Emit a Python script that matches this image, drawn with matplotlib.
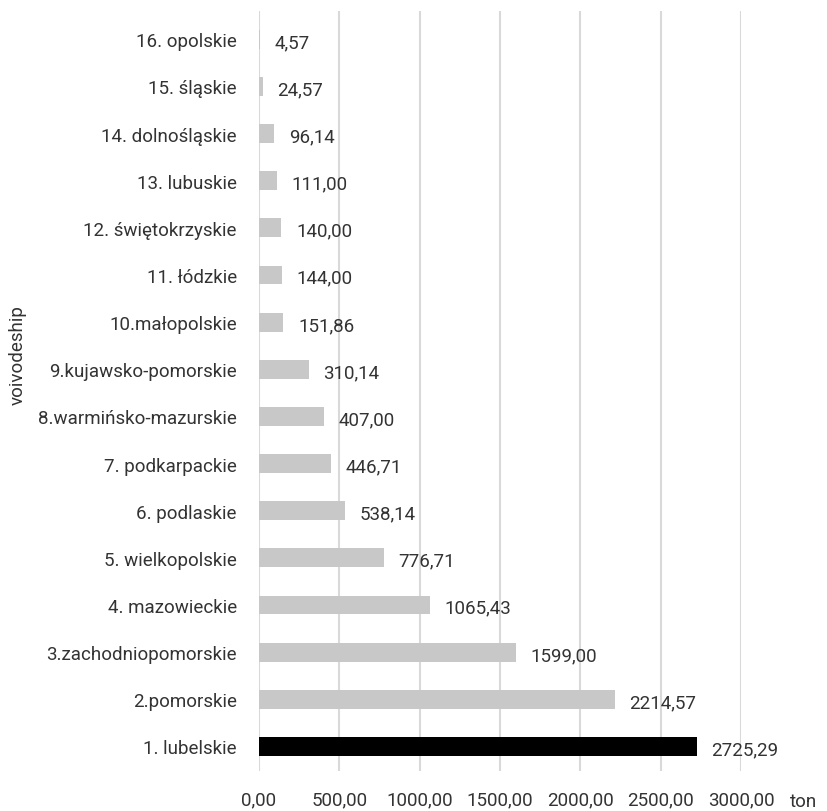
import numpy as np
import matplotlib.pyplot as plt

# dane: województwa i wartości (ton)
regiony = ['1. lubelskie', '2.pomorskie', '3.zachodniopomorskie', '4. mazowieckie',
           '5. wielkopolskie', '6. podlaskie', '7. podkarpackie', '8.warmińsko-mazurskie',
           '9.kujawsko-pomorskie', '10.małopolskie', '11. łódzkie', '12. świętokrzyskie',
           '13. lubuskie', '14. dolnośląskie', '15. śląskie', '16. opolskie']
wartosci = [2725.29, 2214.57, 1599.00, 1065.43, 776.71, 538.14, 446.71, 407.00,
            310.14, 151.86, 144.00, 140.00, 111.00, 96.14, 24.57, 4.57]
ticki = [0, 500, 1000, 1500, 2000, 2500, 3000]

plt.rcParams['font.family'] = ['Roboto', 'DejaVu Sans']
kolor_tekstu = '#333333'
rozmiar = 13.5

fig = plt.figure(figsize=(8.28, 8.12), dpi=100)
ax = fig.add_axes([0.3128, 0.0493, 0.5821, 0.9359])

y = np.arange(len(regiony))
kolory = ['black'] + ['#c8c8c8'] * (len(regiony) - 1)
ax.barh(y, wartosci, height=0.40, color=kolory, zorder=3)

for yi, v in zip(y, wartosci):
    ax.annotate(f'{v:.2f}'.replace('.', ','), (v, yi), xytext=(10.5, -2),
                textcoords='offset points', ha='left', va='center',
                fontsize=rozmiar, color=kolor_tekstu)

ax.set_xlim(0, 3000)
ax.set_ylim(-0.52, 15.6)
ax.set_yticks(y)
ax.set_yticklabels(regiony, fontsize=rozmiar, color=kolor_tekstu)
ax.set_xticks(ticki)
ax.set_xticklabels([f'{t:.2f}'.replace('.', ',') for t in ticki], fontsize=rozmiar, color=kolor_tekstu)
ax.tick_params(axis='both', length=0)
ax.tick_params(axis='x', pad=14)
ax.tick_params(axis='y', pad=16)
ax.xaxis.grid(True, color='#d9d9d9', linewidth=1.5, zorder=0)
for s in ax.spines.values():
    s.set_visible(False)

fig.text(0.021, 0.563, 'voivodeship', rotation=90, fontsize=rozmiar, color=kolor_tekstu,
         ha='center', va='center')
fig.text(0.987, 0.012, 'ton', fontsize=rozmiar, color=kolor_tekstu, ha='right', va='center')

fig.savefig('out.png', dpi=100)
